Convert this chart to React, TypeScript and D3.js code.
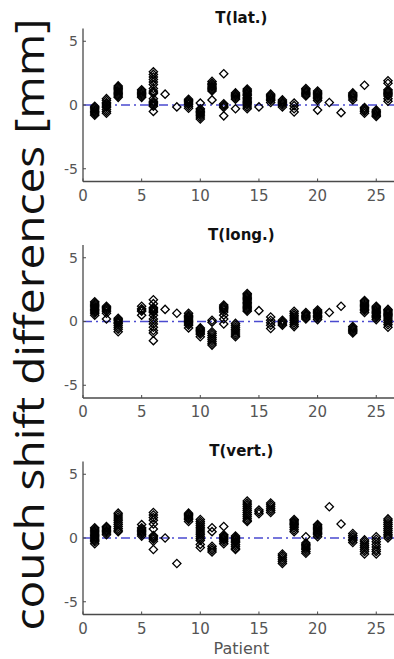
import React from "react";
import * as d3 from "d3";

const patients = d3.range(1, 27);
const titles = ["T(lat.)", "T(long.)", "T(vert.)"];
const xTicks = [0, 5, 10, 15, 20, 25];
const yTicks = [-5, 0, 5];

const latValues: number[][] = [
  [-0.1, -0.2, -0.3, -0.4, -0.5, -0.6, -0.7, -0.8],
  [0.5, 0.35, 0.2, 0.1, 0, -0.1, -0.2, -0.35, -0.5, -0.65],
  [1.5, 1.4, 1.3, 1.2, 1.1, 1.0, 0.9, 0.8, 0.7, 0.6],
  [],
  [1.2, 1.1, 1.0, 0.9, 0.8, 0.7, 0.6],
  [2.6, 2.4, 2.2, 2.0, 1.8, 1.6, 1.3, 1.1, 1.0, 0.9, 0.5, 0.3, 0.2, 0.1, 0, -0.1, -0.5],
  [0.85],
  [-0.15],
  [0.45, 0.35, 0.25, 0.15, 0.05, -0.1, -0.25],
  [0.15, -0.3, -0.4, -0.5, -0.6, -0.7, -0.8, -0.95, -1.1],
  [1.85, 1.7, 1.6, 1.5, 1.4, 1.3, 1.2, 1.1, 0.4],
  [2.45, 0.1, 0, -0.1, -0.2, -0.85],
  [0.95, 0.85, 0.75, 0.65, 0.55, 0.45, -0.3],
  [1.25, 1.15, 1.05, 0.95, 0.85, 0.75, 0.6, 0.5, 0.4, 0.3, 0.2, 0.1, 0, -0.15, -0.3],
  [-0.15],
  [0.85, 0.75, 0.65, 0.55, 0.45, 0.35, 0.2],
  [0.4, 0.3, 0.2, 0.1, 0, -0.15],
  [0.15, -0.05, -0.3, -0.55],
  [1.3, 1.2, 1.1, 1.0, 0.9, 0.8, 0.7],
  [1.1, 1.0, 0.9, 0.8, 0.7, 0.6, 0.5, 0.35, -0.4],
  [0.2],
  [-0.6],
  [0.95, 0.85, 0.75, 0.65, 0.55, 0.4],
  [1.55, -0.2, -0.3, -0.4, -0.5, -0.65],
  [-0.4, -0.5, -0.6, -0.7, -0.8, -0.9],
  [1.9, 1.7, 1.2, 1.1, 1.0, 0.9, 0.8, 0.7, 0.5, 0.3],
];

const longValues: number[][] = [
  [1.55, 1.45, 1.35, 1.25, 1.15, 1.05, 0.95, 0.85, 0.75, 0.65, 0.5],
  [1.2, 1.1, 1.0, 0.9, 0.8, 0.65, 0.2],
  [0.25, 0.15, 0.05, -0.05, -0.15, -0.3, -0.45, -0.6, -0.8],
  [],
  [1.2, 1.0, 0.9, 0.8, 0.5],
  [1.7, 1.4, 1.1, 1.0, 0.9, 0.8, 0.7, 0.5, 0.2, 0, -0.2, -0.45, -0.7, -0.9, -1.5],
  [0.95],
  [0.65],
  [0.65, 0.5, 0.4, 0.3, 0.2, 0.1, 0, -0.1, -0.2, -0.3, -0.5],
  [-0.5, -0.6, -0.7, -0.8, -0.9, -1.0, -1.2],
  [0.1, -0.05, -0.8, -0.95, -1.1, -1.25, -1.4, -1.55, -1.7, -1.85],
  [1.3, 1.2, 1.1, 1.0, 0.9, 0.75, 0.5, 0.2, -0.2],
  [-0.15, -0.3, -0.45, -0.6, -0.75, -0.9, -1.05, -1.2],
  [2.2, 2.1, 2.0, 1.9, 1.8, 1.7, 1.6, 1.5, 1.4, 1.3, 1.2, 1.1, 1.0, 0.9, 0.8],
  [0.85],
  [0.35, 0.1, -0.1, -0.3, -0.55],
  [0.1, 0, -0.1, -0.2, -0.3],
  [0.8, 0.65, 0.5, 0.35, 0.2, 0.05, -0.1, -0.25, -0.4],
  [0.7, 0.6, 0.5, 0.4, 0.3, 0.2],
  [0.9, 0.8, 0.7, 0.6, 0.5, 0.4, 0.3, 0.15],
  [0.7],
  [1.2],
  [-0.4, -0.5, -0.6, -0.7, -0.8, -0.9],
  [1.65, 1.55, 1.45, 1.35, 1.25, 1.15, 1.05, 0.95, 0.85, 0.7],
  [1.2, 1.1, 1.0, 0.9, 0.8, 0.7, 0.6, 0.5, 0.4, 0.3, 0.15],
  [0.95, 0.85, 0.75, 0.65, 0.55, 0.45, 0.35, 0.2, 0.05, -0.1, -0.25, -0.45],
];

const vertValues: number[][] = [
  [0.8, 0.7, 0.6, 0.5, 0.4, 0.3, 0.2, 0.1, 0, -0.1, -0.2, -0.3, -0.45],
  [0.9, 0.8, 0.7, 0.6, 0.5, 0.4, 0.25],
  [1.95, 1.8, 1.65, 1.5, 1.35, 1.2, 1.05, 0.9, 0.75, 0.6, 0.5],
  [],
  [1.05, 0.8, 0.7, 0.6, 0.5, 0.4, 0.3, 0.15],
  [2.0, 1.8, 1.6, 1.4, 1.1, 0.7, 0.2, 0.1, 0, -0.1, -0.25, -0.9],
  [0],
  [-2.0],
  [1.95, 1.85, 1.75, 1.65, 1.55, 1.45, 1.3],
  [1.45, 1.3, 1.15, 1.0, 0.85, 0.7, 0.55, 0.4, 0.25, 0.1, -0.05, -0.2, -0.5, -0.75],
  [0.8, 0.5, -0.65, -0.8, -0.95, -1.1],
  [0.9, 0.25, 0.15, 0.05, -0.05, -0.15, -0.3, -0.45],
  [0.15, 0.05, -0.05, -0.15, -0.25, -0.35, -0.5, -0.65, -0.8, -0.9],
  [2.9, 2.75, 2.6, 2.45, 2.3, 2.15, 2.0, 1.85, 1.7, 1.55, 1.4, 1.3],
  [2.2, 2.05, 1.9],
  [2.75, 2.6, 2.45, 2.3, 2.15, 2.0],
  [-1.25, -1.4, -1.55, -1.7, -1.85, -2.0],
  [1.45, 1.35, 1.25, 1.15, 1.05, 0.95, 0.8, 0.65, 0.5],
  [0.1, -0.4, -0.5, -0.6, -0.7, -0.8, -0.9, -1.05, -1.2],
  [1.05, 0.95, 0.85, 0.75, 0.65, 0.55, 0.45, 0.35, 0.25, 0.1],
  [2.45],
  [1.1],
  [0.35, 0.2, 0.05, -0.1, -0.2, -0.35],
  [-0.15, -0.3, -0.45, -0.6, -0.75, -0.9, -1.05, -1.25],
  [0.1, -0.1, -0.3, -0.5, -0.7, -0.9, -1.05, -1.25],
  [1.5, 1.35, 1.2, 1.05, 0.9, 0.75, 0.6, 0.45, 0.3, 0.15, 0],
];

const panelData = [latValues, longValues, vertValues];

const W = 394;
const H = 659;
const left = 83;
const panelBottoms = [181.5, 398, 614.5];
const panelHeight = 153;

const x = d3.scaleLinear().domain([0, 27]).range([left, left + 27 * 11.73]);
const diamond = d3.symbol().type(d3.symbolSquare).size(34)();

function Panel({ idx }: { idx: number }) {
  const bottom = panelBottoms[idx];
  const y = d3.scaleLinear().domain([-6, 6]).range([bottom, bottom - panelHeight]);
  const values = panelData[idx];
  const pts: { p: number; v: number }[] = [];
  values.forEach((arr, i) => arr.forEach((v) => pts.push({ p: patients[i], v })));
  const axisColor = "#4a4a4a";
  const tickColor = "#555";
  return (
    <g>
      <text
        x={(x.range()[0] + x.range()[1]) / 2}
        y={y(6) - 5.5}
        textAnchor="middle"
        fontFamily="DejaVu Sans"
        fontWeight="bold"
        fontSize={15}
        fill="#111"
      >
        {titles[idx]}
      </text>
      <line
        x1={x(0)}
        x2={x.range()[1]}
        y1={y(0)}
        y2={y(0)}
        stroke="#4a4acf"
        strokeWidth={1.3}
        strokeDasharray="9,4,2,4"
      />
      {pts.map((d, i) => (
        <path
          key={i}
          d={diamond as string}
          transform={`translate(${x(d.p)},${y(d.v)}) rotate(45)`}
          fill="none"
          stroke="#000"
          strokeWidth={1.3}
        />
      ))}
      <line x1={x(0)} x2={x(0)} y1={y(-6)} y2={y(6)} stroke={axisColor} strokeWidth={1.3} />
      <line x1={x(0)} x2={x.range()[1]} y1={y(-6)} y2={y(-6)} stroke={axisColor} strokeWidth={1.3} />
      {yTicks.map((t) => (
        <g key={t}>
          <line x1={x(0)} x2={x(0) + 3} y1={y(t)} y2={y(t)} stroke={axisColor} strokeWidth={1} />
          <text
            x={x(0) - 5}
            y={y(t)}
            dy="0.35em"
            textAnchor="end"
            fontFamily="DejaVu Sans"
            fontSize={14}
            fill={tickColor}
          >
            {t}
          </text>
        </g>
      ))}
      {xTicks.map((t) => (
        <g key={t}>
          <line x1={x(t)} x2={x(t)} y1={y(-6)} y2={y(-6) - 3} stroke={axisColor} strokeWidth={1} />
          <text
            x={x(t)}
            y={y(-6) + 14}
            dy="0.35em"
            textAnchor="middle"
            fontFamily="DejaVu Sans"
            fontSize={15}
            fill={tickColor}
          >
            {t}
          </text>
        </g>
      ))}
    </g>
  );
}

export default function App() {
  return (
    <svg
      width={W}
      height={H}
      style={{ position: "absolute", left: 0, top: 0, background: "#fff" }}
    >
      <rect width={W} height={H} fill="#fff" />
      {[0, 1, 2].map((i) => (
        <Panel key={i} idx={i} />
      ))}
      <text
        x={(x.range()[0] + x.range()[1]) / 2}
        y={648}
        dy="0.35em"
        textAnchor="middle"
        fontFamily="DejaVu Sans"
        fontSize={16}
        fill="#555"
      >
        Patient
      </text>
      <text
        transform="translate(44,324.5) rotate(-90)"
        textAnchor="middle"
        fontFamily="Open Sans"
        fontSize={40}
        textLength={612}
        lengthAdjust="spacingAndGlyphs"
        fill="#111"
      >
        couch shift differences [mm]
      </text>
    </svg>
  );
}
